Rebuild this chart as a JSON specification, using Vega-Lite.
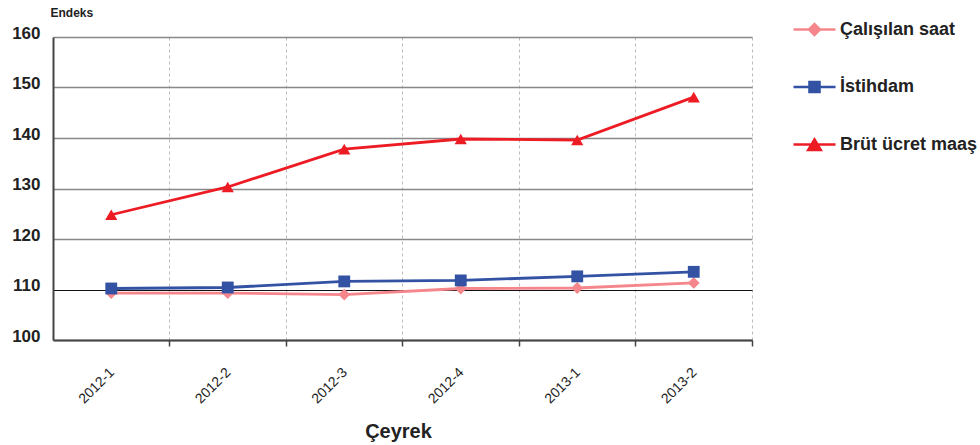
{
  "$schema": "https://vega.github.io/schema/vega-lite/v6.json",
  "autosize": {"type": "none"},
  "width": 699,
  "height": 303,
  "padding": {"left": 53, "top": 37, "right": 228, "bottom": 105},
  "background": "white",
  "config": {
    "font": "Liberation Sans",
    "view": {"stroke": null}
  },
  "data": {
    "values": [
      {"q": "2012-1", "series": "Çalışılan saat", "value": 109.3},
      {"q": "2012-2", "series": "Çalışılan saat", "value": 109.3},
      {"q": "2012-3", "series": "Çalışılan saat", "value": 109.0},
      {"q": "2012-4", "series": "Çalışılan saat", "value": 110.2},
      {"q": "2013-1", "series": "Çalışılan saat", "value": 110.3},
      {"q": "2013-2", "series": "Çalışılan saat", "value": 111.3},
      {"q": "2012-1", "series": "İstihdam", "value": 110.2},
      {"q": "2012-2", "series": "İstihdam", "value": 110.4},
      {"q": "2012-3", "series": "İstihdam", "value": 111.6},
      {"q": "2012-4", "series": "İstihdam", "value": 111.8},
      {"q": "2013-1", "series": "İstihdam", "value": 112.6},
      {"q": "2013-2", "series": "İstihdam", "value": 113.5},
      {"q": "2012-1", "series": "Brüt ücret maaş", "value": 124.8},
      {"q": "2012-2", "series": "Brüt ücret maaş", "value": 130.3},
      {"q": "2012-3", "series": "Brüt ücret maaş", "value": 137.8},
      {"q": "2012-4", "series": "Brüt ücret maaş", "value": 139.8},
      {"q": "2013-1", "series": "Brüt ücret maaş", "value": 139.6},
      {"q": "2013-2", "series": "Brüt ücret maaş", "value": 148.1}
    ]
  },
  "encoding": {
    "x": {
      "field": "q",
      "type": "ordinal",
      "scale": {"type": "band", "paddingInner": 0, "paddingOuter": 0},
      "axis": {
        "bandPosition": 1,
        "labelOffset": 1,
        "labelAngle": -45,
        "labelAlign": "right",
        "labelBaseline": "middle",
        "labelFontSize": 14,
        "labelColor": "#222",
        "labelPadding": 24,
        "ticks": true,
        "tickSize": 6,
        "tickColor": "#444",
        "tickWidth": 1.5,
        "domainColor": "#444",
        "domainWidth": 2,
        "grid": true,
        "gridColor": "#bbbbbb",
        "gridDash": [3, 3],
        "gridWidth": 1,
        "title": "Çeyrek",
        "titleFontSize": 20,
        "titleFontWeight": "bold",
        "titleColor": "#222",
        "titleBaseline": "alphabetic",
        "titleX": 345,
        "titleY": 97
      }
    },
    "y": {
      "field": "value",
      "type": "quantitative",
      "scale": {"domain": [100, 160], "nice": false, "zero": false},
      "axis": {
        "values": [100, 110, 120, 130, 140, 150, 160],
        "ticks": false,
        "labelFontSize": 17,
        "labelFontWeight": "bold",
        "labelColor": "#222",
        "labelPadding": 13,
        "labelBaseline": "alphabetic",
        "labelOffset": 1,
        "domainColor": "#444",
        "domainWidth": 2,
        "grid": true,
        "gridColor": {"condition": {"test": "datum.value === 110", "value": "#111"}, "value": "#888"},
        "gridWidth": {"condition": {"test": "datum.value === 110", "value": 1}, "value": 1.5},
        "title": "Endeks",
        "titleAngle": 0,
        "titleAlign": "left",
        "titleBaseline": "alphabetic",
        "titleFontSize": 12,
        "titleFontWeight": "bold",
        "titleColor": "#222",
        "titleX": -3,
        "titleY": -21
      }
    }
  },
  "layer": [
    {
      "mark": {"type": "line", "strokeWidth": 2.8},
      "encoding": {
        "color": {
          "field": "series",
          "type": "nominal",
          "scale": {
            "domain": ["Çalışılan saat", "İstihdam", "Brüt ücret maaş"],
            "range": ["#f4868c", "#3352a3", "#ed1c24"]
          },
          "legend": {
            "title": null,
            "orient": "none",
            "legendX": 739,
            "legendY": -30,
            "padding": 0,
            "symbolSize": 1764,
            "symbolType": "M-1,0H1",
            "rowPadding": 24.5,
            "labelFontSize": 18,
            "labelFontWeight": "bold",
            "labelColor": "#222",
            "labelOffset": 3,
            "encode": {
              "symbols": {
                "update": {
                  "shape": {"signal": "datum.value === 'Çalışılan saat' ? 'M-1,0H1M0,-0.26L0.26,0L0,0.26L-0.26,0Z' : datum.value === 'İstihdam' ? 'M-1,0H1M-0.24,-0.24H0.24V0.24H-0.24Z' : 'M-1,0H1M0,-0.24L0.3,0.26H-0.3Z'"},
                  "fill": {"scale": "color", "field": "value"},
                  "stroke": {"scale": "color", "field": "value"},
                  "strokeWidth": {"value": 2.5},
                  "size": {"value": 1764},
                  "opacity": {"value": 1}
                }
              }
            }
          }
        }
      }
    },
    {
      "transform": [{"filter": "datum.series === 'Çalışılan saat'"}],
      "mark": {"type": "point", "filled": true, "opacity": 1, "shape": "diamond", "size": 140},
      "encoding": {
        "color": {"field": "series", "type": "nominal", "legend": null}
      }
    },
    {
      "transform": [{"filter": "datum.series === 'İstihdam'"}],
      "mark": {"type": "point", "filled": true, "opacity": 1, "shape": "square", "size": 140},
      "encoding": {
        "color": {"field": "series", "type": "nominal", "legend": null}
      }
    },
    {
      "transform": [{"filter": "datum.series === 'Brüt ücret maaş'"}],
      "mark": {"type": "point", "filled": true, "opacity": 1, "shape": "triangle-up", "size": 150},
      "encoding": {
        "color": {"field": "series", "type": "nominal", "legend": null}
      }
    }
  ]
}
